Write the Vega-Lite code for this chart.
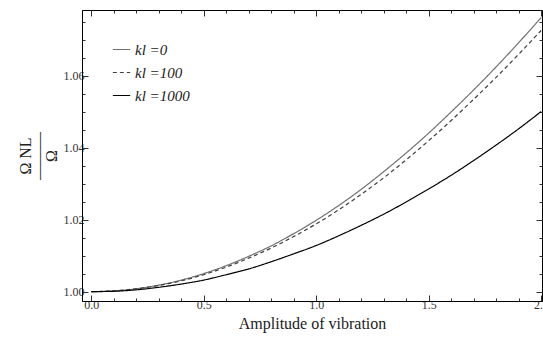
{
  "$schema": "https://vega.github.io/schema/vega-lite/v6.json",
  "width": 460,
  "height": 291,
  "autosize": {"type": "none"},
  "padding": {"left": 82, "top": 10, "right": 1, "bottom": 40},
  "background": "white",
  "config": {
    "view": {"stroke": "black", "strokeWidth": 1},
    "font": "Times New Roman"
  },
  "datasets": {
    "curves": [
      {"a": 0.0, "r": 1.0000, "kl": "kl =0"}, {"a": 0.1, "r": 1.0002, "kl": "kl =0"}, {"a": 0.2, "r": 1.0008, "kl": "kl =0"}, {"a": 0.3, "r": 1.0018, "kl": "kl =0"}, {"a": 0.4, "r": 1.0032, "kl": "kl =0"}, {"a": 0.5, "r": 1.0050, "kl": "kl =0"}, {"a": 0.6, "r": 1.0072, "kl": "kl =0"}, {"a": 0.7, "r": 1.0098, "kl": "kl =0"}, {"a": 0.8, "r": 1.0127, "kl": "kl =0"}, {"a": 0.9, "r": 1.0161, "kl": "kl =0"}, {"a": 1.0, "r": 1.0198, "kl": "kl =0"}, {"a": 1.1, "r": 1.0239, "kl": "kl =0"}, {"a": 1.2, "r": 1.0284, "kl": "kl =0"}, {"a": 1.3, "r": 1.0333, "kl": "kl =0"}, {"a": 1.4, "r": 1.0385, "kl": "kl =0"}, {"a": 1.5, "r": 1.0440, "kl": "kl =0"}, {"a": 1.6, "r": 1.0499, "kl": "kl =0"}, {"a": 1.7, "r": 1.0560, "kl": "kl =0"}, {"a": 1.8, "r": 1.0624, "kl": "kl =0"}, {"a": 1.9, "r": 1.0691, "kl": "kl =0"}, {"a": 2.0, "r": 1.0761, "kl": "kl =0"},
      {"a": 0.0, "r": 1.0000, "kl": "kl =100"}, {"a": 0.1, "r": 1.0002, "kl": "kl =100"}, {"a": 0.2, "r": 1.0008, "kl": "kl =100"}, {"a": 0.3, "r": 1.0017, "kl": "kl =100"}, {"a": 0.4, "r": 1.0030, "kl": "kl =100"}, {"a": 0.5, "r": 1.0047, "kl": "kl =100"}, {"a": 0.6, "r": 1.0068, "kl": "kl =100"}, {"a": 0.7, "r": 1.0093, "kl": "kl =100"}, {"a": 0.8, "r": 1.0121, "kl": "kl =100"}, {"a": 0.9, "r": 1.0153, "kl": "kl =100"}, {"a": 1.0, "r": 1.0188, "kl": "kl =100"}, {"a": 1.1, "r": 1.0227, "kl": "kl =100"}, {"a": 1.2, "r": 1.0270, "kl": "kl =100"}, {"a": 1.3, "r": 1.0316, "kl": "kl =100"}, {"a": 1.4, "r": 1.0366, "kl": "kl =100"}, {"a": 1.5, "r": 1.0419, "kl": "kl =100"}, {"a": 1.6, "r": 1.0475, "kl": "kl =100"}, {"a": 1.7, "r": 1.0534, "kl": "kl =100"}, {"a": 1.8, "r": 1.0595, "kl": "kl =100"}, {"a": 1.9, "r": 1.0659, "kl": "kl =100"}, {"a": 2.0, "r": 1.0725, "kl": "kl =100"},
      {"a": 0.0, "r": 1.0000, "kl": "kl =1000"}, {"a": 0.1, "r": 1.0001, "kl": "kl =1000"}, {"a": 0.2, "r": 1.0005, "kl": "kl =1000"}, {"a": 0.3, "r": 1.0012, "kl": "kl =1000"}, {"a": 0.4, "r": 1.0021, "kl": "kl =1000"}, {"a": 0.5, "r": 1.0032, "kl": "kl =1000"}, {"a": 0.6, "r": 1.0047, "kl": "kl =1000"}, {"a": 0.7, "r": 1.0063, "kl": "kl =1000"}, {"a": 0.8, "r": 1.0083, "kl": "kl =1000"}, {"a": 0.9, "r": 1.0105, "kl": "kl =1000"}, {"a": 1.0, "r": 1.0128, "kl": "kl =1000"}, {"a": 1.1, "r": 1.0155, "kl": "kl =1000"}, {"a": 1.2, "r": 1.0184, "kl": "kl =1000"}, {"a": 1.3, "r": 1.0215, "kl": "kl =1000"}, {"a": 1.4, "r": 1.0249, "kl": "kl =1000"}, {"a": 1.5, "r": 1.0285, "kl": "kl =1000"}, {"a": 1.6, "r": 1.0323, "kl": "kl =1000"}, {"a": 1.7, "r": 1.0364, "kl": "kl =1000"}, {"a": 1.8, "r": 1.0407, "kl": "kl =1000"}, {"a": 1.9, "r": 1.0452, "kl": "kl =1000"}, {"a": 2.0, "r": 1.0500, "kl": "kl =1000"}
    ]
  },
  "data": {"name": "curves"},
  "resolve": {"axis": {"x": "independent", "y": "independent"}},
  "layer": [
    {
      "mark": {"type": "line", "interpolate": "monotone", "clip": true},
      "encoding": {
        "x": {
          "field": "a", "type": "quantitative",
          "scale": {"domain": [-0.041, 2.004], "nice": false, "zero": false},
          "axis": {
            "title": "Amplitude of vibration",
            "titleFont": "Times New Roman", "titleFontSize": 16, "titleFontWeight": "normal", "titleColor": "#222",
            "titlePadding": 2,
            "values": [0, 0.1, 0.2, 0.3, 0.4, 0.5, 0.6, 0.7, 0.8, 0.9, 1.0, 1.1, 1.2, 1.3, 1.4, 1.5, 1.6, 1.7, 1.8, 1.9, 2.0],
            "labelExpr": "abs(datum.value*2 - round(datum.value*2)) < 0.001 ? format(datum.value, '.1f') : ''",
            "labelFont": "Times New Roman", "labelFontSize": 12, "labelColor": "#333",
            "labelPadding": 4,
            "tickSize": {"condition": {"test": "abs(datum.value*2 - round(datum.value*2)) < 0.001", "value": -6}, "value": -3},
            "tickColor": "#333", "domainColor": "black", "grid": false, "labelFlush": false, "labelOverlap": false
          }
        },
        "y": {
          "field": "r", "type": "quantitative",
          "scale": {"domain": [0.9974, 1.0782], "nice": false, "zero": false},
          "axis": {
            "title": ["Ω  NL", "———", "Ω"],
            "titleFont": "Times New Roman", "titleFontSize": 16, "titleFontWeight": "normal", "titleColor": "#222",
            "titleLineHeight": 13,
            "titlePadding": 4,
            "values": [1.0, 1.005, 1.01, 1.015, 1.02, 1.025, 1.03, 1.035, 1.04, 1.045, 1.05, 1.055, 1.06, 1.065, 1.07, 1.075],
            "labelExpr": "abs(datum.value*50 - round(datum.value*50)) < 0.001 ? format(datum.value, '.2f') : ''",
            "labelFont": "Times New Roman", "labelFontSize": 12, "labelColor": "#333",
            "labelPadding": 4,
            "tickSize": {"condition": {"test": "abs(datum.value*50 - round(datum.value*50)) < 0.001", "value": -6}, "value": -3},
            "tickColor": "#333", "domainColor": "black", "grid": false, "labelOverlap": false
          }
        },
        "color": {
          "field": "kl", "type": "nominal",
          "scale": {"domain": ["kl =0", "kl =100", "kl =1000"], "range": ["#707070", "#404040", "#000000"]},
          "legend": {
            "title": null, "orient": "none", "legendX": 30, "legendY": 30,
            "symbolType": "stroke", "symbolSize": 300,
            "labelFont": "Times New Roman", "labelFontStyle": "italic", "labelFontSize": 15, "labelColor": "#222",
            "rowPadding": 5, "labelOffset": 4
          }
        },
        "strokeDash": {
          "field": "kl", "type": "nominal",
          "scale": {"domain": ["kl =0", "kl =100", "kl =1000"], "range": [[1, 0], [4, 3], [1, 0]]},
          "legend": null
        },
        "strokeWidth": {
          "field": "kl", "type": "nominal",
          "scale": {"domain": ["kl =0", "kl =100", "kl =1000"], "range": [1.2, 1.2, 3]},
          "legend": null
        }
      }
    },
    {
      "mark": {"type": "line", "opacity": 0},
      "encoding": {
        "x": {
          "field": "a", "type": "quantitative",
          "scale": {"domain": [-0.041, 2.004], "nice": false, "zero": false},
          "axis": {
            "orient": "top", "title": null, "labels": false, "domain": false, "grid": false,
            "values": [0, 0.1, 0.2, 0.3, 0.4, 0.5, 0.6, 0.7, 0.8, 0.9, 1.0, 1.1, 1.2, 1.3, 1.4, 1.5, 1.6, 1.7, 1.8, 1.9, 2.0],
            "tickSize": {"condition": {"test": "abs(datum.value*2 - round(datum.value*2)) < 0.001", "value": -6}, "value": -3},
            "tickColor": "#333"
          }
        },
        "y": {
          "field": "r", "type": "quantitative",
          "scale": {"domain": [0.9974, 1.0782], "nice": false, "zero": false},
          "axis": {
            "orient": "right", "title": null, "labels": false, "domain": false, "grid": false,
            "values": [1.0, 1.005, 1.01, 1.015, 1.02, 1.025, 1.03, 1.035, 1.04, 1.045, 1.05, 1.055, 1.06, 1.065, 1.07, 1.075],
            "tickSize": {"condition": {"test": "abs(datum.value*50 - round(datum.value*50)) < 0.001", "value": -6}, "value": -3},
            "tickColor": "#333"
          }
        }
      }
    }
  ]
}
